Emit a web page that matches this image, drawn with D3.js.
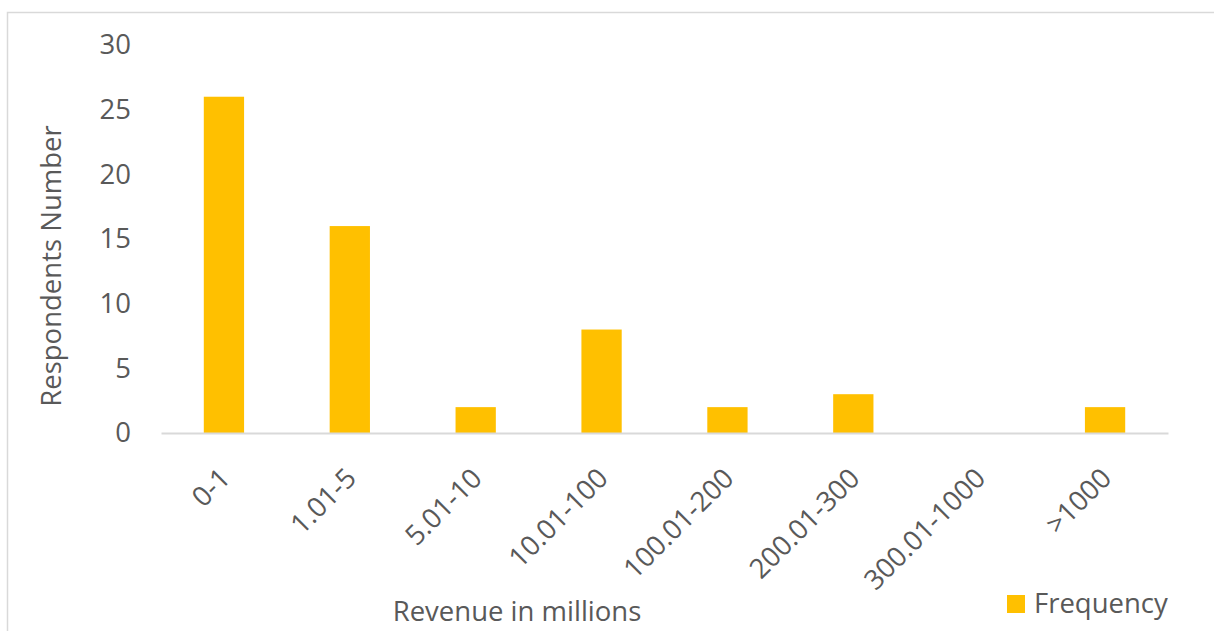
<!DOCTYPE html>
<html>
<head>
<meta charset="utf-8">
<script src="https://cdn.jsdelivr.net/npm/d3@7"></script>
<style>
  html, body { margin: 0; padding: 0; background: #ffffff; }
  svg { display: block; }
  text { font-family: "Open Sans", "Noto Sans", sans-serif; fill: #595959; }
</style>
</head>
<body>
<svg id="chart" width="1214" height="631"></svg>
<script>
// Revenue bands (in millions) and how many respondents fall in each
const categories = ["0-1", "1.01-5", "5.01-10", "10.01-100", "100.01-200", "200.01-300", "300.01-1000", ">1000"];
const frequency = [26, 16, 2, 8, 2, 3, 0, 2];
const yTicks = [0, 5, 10, 15, 20, 25, 30];
const seriesName = "Frequency";
const xTitle = "Revenue in millions";
const yTitle = "Respondents Number";

const W = 1214, H = 631;
const FS = 27.5;
const margin = { left: 161, right: 46, top: 45, bottom: 198 };
const svg = d3.select("#chart");

// chart area frame
svg.append("rect")
  .attr("x", 7.5).attr("y", 12.5)
  .attr("width", W + 10).attr("height", H)
  .attr("fill", "none").attr("stroke", "#d9d9d9").attr("stroke-width", 1.5);

const x = d3.scaleBand()
  .domain(categories)
  .range([margin.left, W - margin.right])
  .paddingInner(0.68).paddingOuter(0.34);

const y = d3.scaleLinear()
  .domain([0, 30])
  .range([H - margin.bottom, margin.top]);

// bars
svg.append("g").selectAll("rect")
  .data(categories.map((c, i) => ({ c, v: frequency[i] })))
  .join("rect")
  .attr("x", d => x(d.c))
  .attr("y", d => y(d.v))
  .attr("width", x.bandwidth())
  .attr("height", d => y(0) - y(d.v))
  .attr("fill", "#ffc000");

// y axis labels (no line, no ticks)
const yAxis = svg.append("g")
  .attr("transform", `translate(${margin.left},0)`)
  .call(d3.axisLeft(y).tickValues(yTicks).tickSize(0).tickPadding(30));
yAxis.select(".domain").remove();
yAxis.selectAll("text")
  .attr("font-size", FS)
  .attr("font-family", "Open Sans")
  .attr("fill", "#595959");

// x axis baseline and rotated category labels
const xAxis = svg.append("g")
  .attr("transform", `translate(0,${y(0)})`)
  .call(d3.axisBottom(x).tickSize(0).tickFormat(""));
xAxis.select(".domain").attr("stroke", "#d9d9d9").attr("stroke-width", 2);

svg.append("g").selectAll("text")
  .data(categories)
  .join("text")
  .attr("transform", d => `translate(${x(d) + x.bandwidth() / 2 + 8},${y(0) + 47}) rotate(-45)`)
  .attr("text-anchor", "end")
  .attr("font-size", FS)
  .text(d => d);

// axis titles
svg.append("text")
  .attr("transform", `translate(61,266) rotate(-90)`)
  .attr("text-anchor", "middle")
  .attr("font-size", FS)
  .text(yTitle);

svg.append("text")
  .attr("x", 517).attr("y", 621)
  .attr("text-anchor", "middle")
  .attr("font-size", FS)
  .text(xTitle);

// legend
const legend = svg.append("g").attr("transform", "translate(1007,595)");
legend.append("rect")
  .attr("width", 18).attr("height", 18)
  .attr("fill", "#ffc000");
legend.append("text")
  .attr("x", 27).attr("y", 18)
  .attr("font-size", FS)
  .text(seriesName);
</script>
</body>
</html>
